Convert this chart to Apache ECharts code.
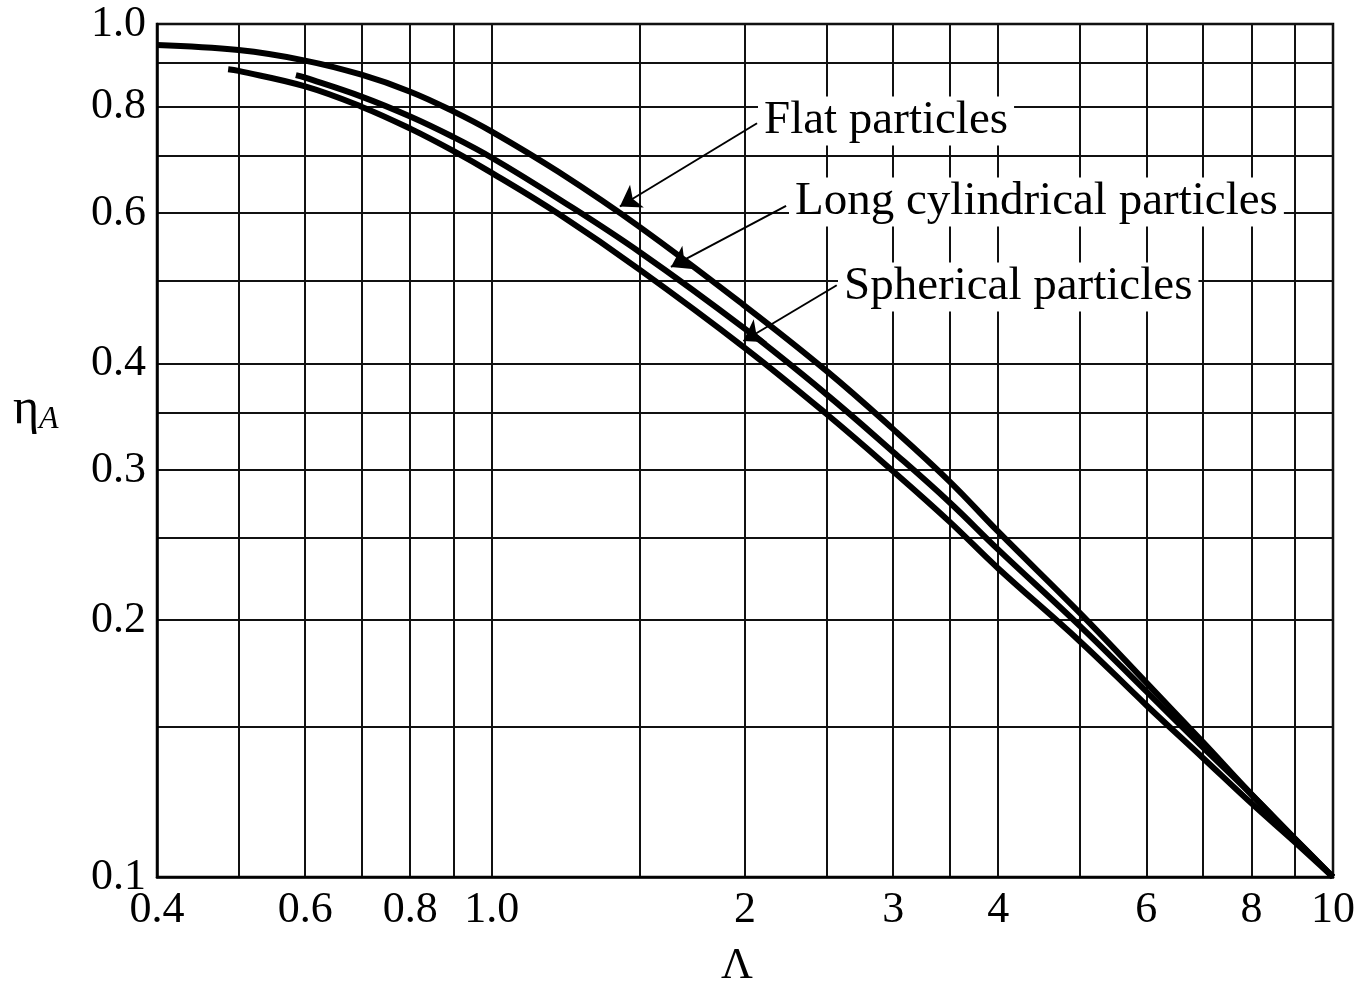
<!DOCTYPE html>
<html><head><meta charset="utf-8">
<script src="https://cdn.jsdelivr.net/npm/echarts@6/dist/echarts.min.js"></script>
<style>html,body{margin:0;padding:0;background:#fff}#c{width:1362px;height:986px}</style>
</head><body><div id="c"></div>
<script>
// ---- data ----
const xGridValues = [0.4,0.5,0.6,0.7,0.8,0.9,1.0,1.5,2,2.5,3,3.5,4,5,6,7,8,9,10];
const yGridValues = [0.1,0.15,0.2,0.25,0.3,0.35,0.4,0.5,0.6,0.7,0.8,0.9,1.0];
const xTickValues = [0.4,0.6,0.8,1.0,2,3,4,6,8,10];
const xTickLabels = ['0.4','0.6','0.8','1.0','2','3','4','6','8','10'];
const yTickValues = [0.1,0.2,0.3,0.4,0.6,0.8,1.0];
const yTickLabels = ['0.1','0.2','0.3','0.4','0.6','0.8','1.0'];

const flatX = [0.4,0.5,0.6,0.7,0.8,0.9,1.0,1.2,1.5,2,2.5,3,3.5,4,5,6,7,8,9,10];
const flatY = [0.945,0.932,0.906,0.872,0.833,0.790,0.748,0.671,0.578,0.467,0.392,0.335,0.291,0.254,0.204,0.169,0.144,0.125,0.111,0.100];
const cylX = [0.585,0.6,0.7,0.8,0.9,1.0,1.2,1.5,2,2.5,3,3.5,4,5,6,7,8,9,10];
const cylY = [0.871,0.865,0.822,0.779,0.737,0.697,0.624,0.540,0.439,0.368,0.315,0.275,0.242,0.197,0.165,0.142,0.125,0.111,0.100];
const sphX = [0.486,0.5,0.6,0.7,0.8,0.9,1.0,1.2,1.5,2,2.5,3,3.5,4,5,6,7,8,9,10];
const sphY = [0.885,0.881,0.845,0.800,0.754,0.710,0.669,0.599,0.515,0.417,0.349,0.299,0.261,0.230,0.189,0.159,0.138,0.122,0.110,0.100];

const seriesNames = ['Flat particles','Long cylindrical particles','Spherical particles'];
// arrow tail / head in data coordinates
const arrowTails = [[2.067,0.765],[2.238,0.612],[2.571,0.494]];
const arrowTips  = [[1.42,0.611],[1.633,0.519],[1.991,0.425]];

// ---- chart ----
const FONT = '"Liberation Serif", "Times New Roman", serif';
function pairs(xs, ys){ return xs.map((x,i)=>[x, ys[i]]); }
function fmt(values, labels){
  return v => { for (let i=0;i<values.length;i++){ if (Math.abs(v-values[i]) < 1e-6*values[i]) return labels[i]; } return ''; };
}
const chart = echarts.init(document.getElementById('c'), null, {renderer:'canvas'});
const xsArr = [flatX, cylX, sphX], ysArr = [flatY, cylY, sphY];
const series = seriesNames.map((name, i) => ({
  name, type:'line', data: pairs(xsArr[i], ysArr[i]),
  showSymbol:false, smooth:0.4, z:5,
  itemStyle:{color:'#000'},
  lineStyle:{color:'#000', width:6, cap:'butt'},
  markLine:{
    silent:true, symbol:['none','arrow'], symbolSize:20, animation:false,
    itemStyle:{color:'#000'},
    lineStyle:{color:'#000', width:2, type:'solid'},
    label:{show:false},
    data:[[{coord:arrowTails[i]},{coord:arrowTips[i]}]]
  }
}));
const labelPos = [[764,121],[795,202],[844,287]];
const graphics = seriesNames.map((name,i)=>({
  type:'text', z:100, x:labelPos[i][0]-6, y:labelPos[i][1],
  style:{text:name, font:'47px '+FONT, fill:'#000', backgroundColor:'#fff', padding:[0,6,2,6], align:'left', verticalAlign:'middle'}
}));
graphics.push({type:'text', z:100, x:13, y:410, style:{text:'η', font:'50px '+FONT, fill:'#000', align:'left', verticalAlign:'middle'}});
graphics.push({type:'text', z:100, x:39, y:420, style:{text:'A', font:'italic 32px '+FONT, fill:'#000', align:'left', verticalAlign:'middle'}});
graphics.push({type:'text', z:100, x:737, y:966, style:{text:'Λ', font:'44px '+FONT, fill:'#000', align:'center', verticalAlign:'middle'}});

chart.setOption({
  animation:false,
  backgroundColor:'#fff',
  grid:{left:157, right:29, top:24, bottom:109, show:true, borderColor:'#000', borderWidth:2.5, backgroundColor:'transparent'},
  xAxis:{
    type:'log', logBase:10, min:0.4, max:10,
    axisLine:{show:true, lineStyle:{color:'#000', width:2.5}},
    axisTick:{show:false, customValues:xGridValues},
    minorTick:{show:false},
    splitLine:{show:true, lineStyle:{color:'#111', width:2}},
    axisLabel:{customValues:xTickValues, formatter:fmt(xTickValues,xTickLabels), color:'#000', fontFamily:FONT, fontSize:44, margin:11, showMinLabel:true, showMaxLabel:true, hideOverlap:false}
  },
  yAxis:{
    type:'log', logBase:10, min:0.1, max:1.0,
    axisLine:{show:true, lineStyle:{color:'#000', width:2.5}},
    axisTick:{show:false, customValues:yGridValues},
    minorTick:{show:false},
    splitLine:{show:true, lineStyle:{color:'#111', width:2}},
    axisLabel:{customValues:yTickValues, formatter:fmt(yTickValues,yTickLabels), color:'#000', fontFamily:FONT, fontSize:44, margin:11, showMinLabel:true, showMaxLabel:true, hideOverlap:false}
  },
  series,
  graphic: graphics
});
</script></body></html>
